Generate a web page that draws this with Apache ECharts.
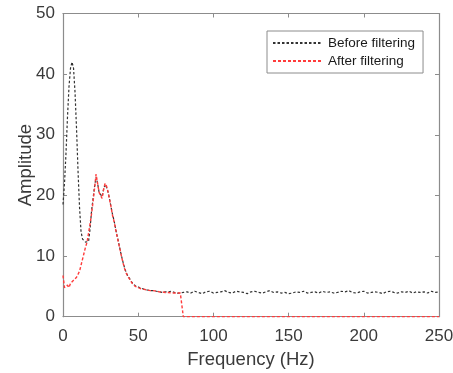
<!DOCTYPE html>
<html>
<head>
<meta charset="utf-8">
<script src="https://cdn.jsdelivr.net/npm/echarts@6/dist/echarts.min.js"></script>
<style>
html,body{margin:0;padding:0;background:#fff;}
#chart{width:453px;height:373px;}
</style>
</head>
<body>
<div id="chart"></div>
<script>
// Frequencies (Hz), 1 Hz steps in the low band
const freqLow = [0,1,2,3,4,5,6,7,8,9,10,11,12,13,14,15,16,17,18,19,20,21,22,23,24,25,26,27,28,29,30,31,32,33,34,35,36,37,38,39,40,41,42,43,44,45,46,47,48,49,50,51,52,53,54,55,56,57,58,59,60,61,62,63,64,65,66,67,68,69,70,71,72,73,74,75,76,77,78,79,80];
// High band for the unfiltered signal
const freqHigh = [82.5,85,87.5,90,92.5,95,97.5,100,102.5,105,107.5,110,112.5,115,117.5,120,122.5,125,127.5,130,132.5,135,137.5,140,142.5,145,147.5,150,152.5,155,157.5,160,162.5,165,167.5,170,172.5,175,177.5,180,182.5,185,187.5,190,192.5,195,197.5,200,202.5,205,207.5,210,212.5,215,217.5,220,222.5,225,227.5,230,232.5,235,237.5,240,242.5,245,247.5,250];

const beforeLow = [18.5,22,27,33,38,41,42,41,37,31,24,18,14,12.8,12.5,12.3,12.6,12.4,14.5,17.5,19.5,21.5,23,22,20.5,20.3,19.8,21,21.8,21.3,20.5,19.3,18,16.8,15.8,14.5,13.3,12.2,11,9.9,8.9,8,7.3,6.8,6.4,6,5.6,5.3,5.1,5,4.9,4.7,4.7,4.6,4.5,4.6,4.4,4.5,4.3,4.4,4.3,4.4,4.2,4.3,4.1,4.3,4.0,4.2,4.1,4.0,4.1,4.0,4.2,3.9,4.0,4.1,3.9,4.0,3.9,3.9,4.0];
const beforeHigh = [4.1,3.9,4.2,4.0,3.8,4.1,4.2,3.9,4.0,4.1,4.3,4.0,3.9,4.2,4.1,4.0,3.8,4.1,4.2,4.0,3.9,4.1,4.3,4.0,4.1,3.9,4.0,3.8,3.9,4.1,4.0,4.2,3.9,4.0,4.1,3.9,4.2,4.0,4.1,3.9,4.0,4.2,4.1,4.3,4.0,3.9,4.1,4.2,3.9,4.0,4.1,4.0,3.8,4.1,4.2,4.0,3.9,4.1,4.0,4.2,3.9,4.1,4.0,4.1,3.9,4.2,4.0,4.1];

const afterLow = [6.8,4.8,4.5,5.2,4.8,5.5,5.2,6,5.8,6.5,7,7.5,8.5,9.5,10.5,11.5,12.3,13.8,15.3,17,19,21.2,23.5,22,20.5,20,19.5,21,22,21.5,20.5,19.3,18,16.6,15.7,14.4,13.2,12.1,11,9.8,8.8,7.9,7.2,6.7,6.3,5.9,5.5,5.2,5.0,4.9,4.8,4.7,4.6,4.5,4.5,4.5,4.4,4.4,4.3,4.3,4.3,4.3,4.2,4.2,4.1,4.1,4.1,4.0,4.0,4.0,4.0,4.0,3.9,3.9,3.9,3.9,3.9,3.9,3.9,3.9,0];
const afterTailFreq = [250];
const afterTail = [0];

const xTicks = {min:0, max:250, interval:50};
const yTicks = {min:0, max:50, interval:10};
const seriesNames = ['Before filtering','After filtering'];

const pair = (xs, ys) => xs.map((x,i)=>[x, ys[i]]);
const beforeData = pair(freqLow.concat(freqHigh), beforeLow.concat(beforeHigh));
const afterData = pair(freqLow.concat(afterTailFreq), afterLow.concat(afterTail));

const FONT = 'Liberation Sans, Arial, sans-serif';
const axisGray = '#8c8c8c';
const textCol = '#3a3a3a';

const chart = echarts.init(document.getElementById('chart'), null, {renderer:'canvas'});
chart.setOption({
  animation:false,
  backgroundColor:'#fff',
  grid:{left:63, right:14, top:13.5, bottom:56.3, containLabel:false, outerBoundsMode:'none'},
  legend:{
    left:267, top:31, orient:'vertical',
    itemWidth:48, itemHeight:14, itemGap:4,
    padding:[5,8,5,5],
    borderColor:'#8c8c8c', borderWidth:1, backgroundColor:'#fff',
    itemStyle:{opacity:0},
    textStyle:{fontFamily:FONT, fontSize:13.5, color:'#1a1a1a', padding:[0,0,0,2]},
    data:seriesNames
  },
  xAxis:[{
    type:'value', min:xTicks.min, max:xTicks.max, interval:xTicks.interval,
    name:'Frequency (Hz)', nameLocation:'middle', nameGap:34, nameMoveOverlap:false,
    nameTextStyle:{fontFamily:FONT, fontSize:18.5, color:textCol},
    axisLine:{show:true, onZero:false, lineStyle:{color:axisGray, width:1.2}},
    axisTick:{show:true, inside:true, length:4, lineStyle:{color:axisGray}},
    axisLabel:{fontFamily:FONT, fontSize:17, color:textCol, margin:11},
    splitLine:{show:false}
  },{
    type:'value', position:'top', min:xTicks.min, max:xTicks.max, interval:xTicks.interval,
    axisLine:{show:true, onZero:false, lineStyle:{color:axisGray, width:1.2}},
    axisTick:{show:true, inside:true, length:4, lineStyle:{color:axisGray}},
    axisLabel:{show:false}, splitLine:{show:false}
  }],
  yAxis:[{
    type:'value', min:yTicks.min, max:yTicks.max, interval:yTicks.interval,
    name:'Amplitude', nameLocation:'middle', nameGap:28, nameRotate:90, nameMoveOverlap:false,
    nameTextStyle:{fontFamily:FONT, fontSize:18.5, color:textCol},
    axisLine:{show:true, onZero:false, lineStyle:{color:axisGray, width:1.2}},
    axisTick:{show:true, inside:true, length:4, lineStyle:{color:axisGray}},
    axisLabel:{fontFamily:FONT, fontSize:17, color:textCol, margin:8},
    splitLine:{show:false}
  },{
    type:'value', position:'right', min:yTicks.min, max:yTicks.max, interval:yTicks.interval,
    axisLine:{show:true, onZero:false, lineStyle:{color:axisGray, width:1.2}},
    axisTick:{show:true, inside:true, length:4, lineStyle:{color:axisGray}},
    axisLabel:{show:false}, splitLine:{show:false}
  }],
  series:[{
    name:seriesNames[0], type:'line', data:beforeData, showSymbol:false, symbol:'none',
    xAxisIndex:0, yAxisIndex:0,
    lineStyle:{color:'#333333', width:1.2, type:[2.5,2]},
    itemStyle:{color:'#333333'}
  },{
    name:seriesNames[1], type:'line', data:afterData, showSymbol:false, symbol:'none',
    xAxisIndex:0, yAxisIndex:0,
    lineStyle:{color:'#ff3b3b', width:1.4, type:[3,2]},
    itemStyle:{color:'#ff3b3b'}
  }]
});
</script>
</body>
</html>
